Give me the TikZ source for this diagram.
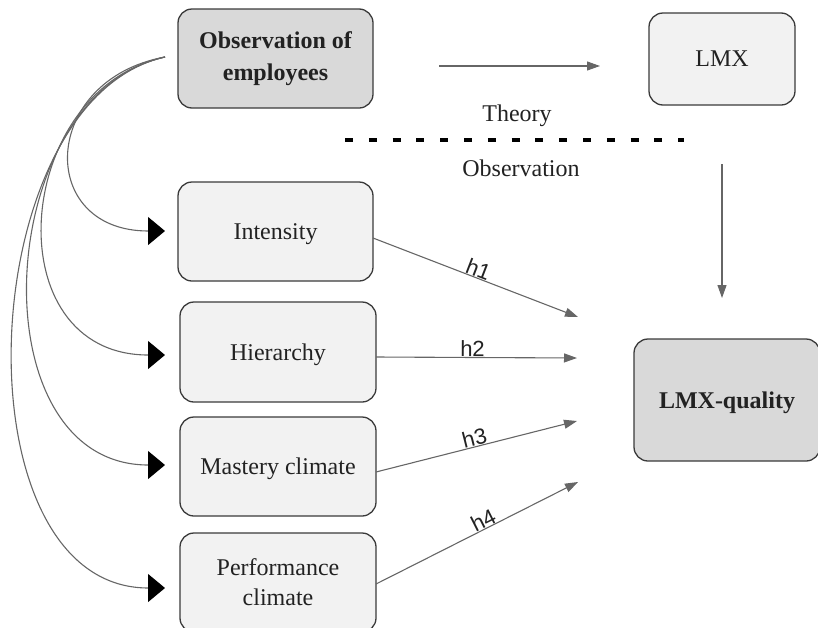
\documentclass[tikz,border=0pt]{standalone}
\usepackage{fontspec}
\setmainfont{Liberation Serif}
\newfontfamily\arialfont{Liberation Sans}
\usetikzlibrary{arrows.meta,calc}
\definecolor{boxlight}{HTML}{F2F2F2}
\definecolor{boxdark}{HTML}{D9D9D9}
\definecolor{edgecol}{HTML}{3A3A3A}
\definecolor{conncol}{HTML}{666666}
\definecolor{textcol}{HTML}{222222}
\begin{document}
\begin{tikzpicture}[x=1pt,y=-1pt,
  box/.style={draw=edgecol, line width=1.3pt, rounded corners=14pt, fill=boxlight, align=center, text=textcol, font=\fontsize{24}{30}\selectfont, inner sep=0pt},
  darkbox/.style={box, fill=boxdark},
  oneline/.style={text depth=0pt},
  conn/.style={draw=conncol, line width=1.1pt, -{Triangle[length=13pt,width=9pt]}},
  curv/.style={draw=conncol, line width=1.1pt, -{Triangle[length=17pt,width=28pt,color=black]}},
  hlab/.style={font=\arialfont\fontsize{22}{22}\selectfont, sloped, anchor=south, inner sep=0pt, text=textcol},
  plain/.style={font=\fontsize{24}{30}\selectfont, text=textcol, inner sep=0pt}
]
\useasboundingbox (0,0) rectangle (818,627);
% boxes
\node[darkbox, minimum width=195pt, minimum height=99pt, font=\bfseries\fontsize{24}{32}\selectfont] (obs) at (275.5,58.5) {Observation of\\employees};
\node[box, oneline, minimum width=146pt, minimum height=92pt] (lmx) at (722,59) {LMX};
\node[box, oneline, minimum width=195pt, minimum height=99pt] (int) at (275.5,231.5) {Intensity};
\node[box, oneline, minimum width=196pt, minimum height=100pt] (hier) at (278,352) {Hierarchy};
\node[box, oneline, minimum width=196pt, minimum height=99pt] (mast) at (278,466.5) {Mastery climate};
\node[box, minimum width=196pt, minimum height=99pt] (perf) at (278,582.5) {Performance\\climate};
\node[darkbox, oneline, minimum width=186pt, minimum height=122pt, font=\bfseries\fontsize{24}{30}\selectfont] (lq) at (727,400) {LMX-quality};
% labels
\node[plain] (theory) at (517,116) {Theory};
\node[plain] (observ) at (521,168) {Observation};
\draw[line width=4pt, dash pattern=on 8pt off 15.8pt] (345,140) -- (684,140);
% straight connectors
\coordinate (a1) at (439,66); \coordinate (a2) at (600,66);
\draw[conn] (a1) -- (a2);
\coordinate (v1) at (722,164); \coordinate (v2) at (722,298);
\draw[conn] (v1) -- (v2);
\coordinate (h1s) at (373,238); \coordinate (h1e) at (578,317);
\coordinate (h2s) at (376,357); \coordinate (h2e) at (577,358);
\coordinate (h3s) at (376,472); \coordinate (h3e) at (577,421);
\coordinate (h4s) at (376,584); \coordinate (h4e) at (578,482);
\draw[conn] (h1s) -- node[hlab, pos=0.5] {h1} (h1e);
\draw[conn] (h2s) -- node[hlab, pos=0.48] {h2} (h2e);
\draw[conn] (h3s) -- node[hlab, pos=0.5] {h3} (h3e);
\draw[conn] (h4s) -- node[hlab, pos=0.55] {h4} (h4e);
% curved connectors
\coordinate (cs) at (165,57);
\coordinate (t1) at (165,231);
\coordinate (t2) at (165,355);
\coordinate (t3) at (165,465);
\coordinate (t4) at (165,588);
\draw[curv] (cs) .. controls (40,80) and (36,231) .. (t1);
\draw[curv] (cs) .. controls (12,90) and (-6,355) .. (t2);
\draw[curv] (cs) .. controls (-8,95) and (-25,465) .. (t3);
\draw[curv] (cs) .. controls (-28,100) and (-46,588) .. (t4);
\end{tikzpicture}
\end{document}
